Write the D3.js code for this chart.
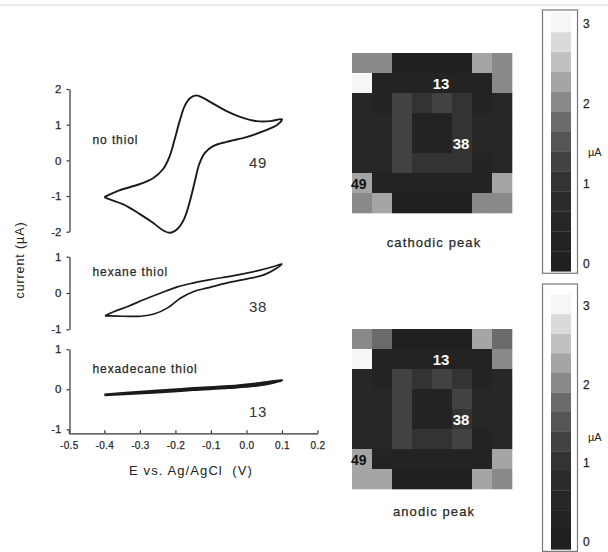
<!DOCTYPE html>
<html>
<head>
<meta charset="utf-8">
<script src="https://cdn.jsdelivr.net/npm/d3@7"></script>
<style>
  html, body { margin: 0; padding: 0; background: #fff; }
  svg { display: block; font-family: "Liberation Sans", Arial, sans-serif; }
  .axis path, .axis line { stroke: #333; stroke-width: 1.2; }
  .axis text { fill: #222; }
  .scan { stroke: #333; stroke-width: 0.25; }
</style>
</head>
<body>
<div id="chart"></div>
<script>
// cyclic voltammograms (E in V, current in uA)
const noThiolE = [-0.400, -0.358, -0.301, -0.263, -0.235, -0.216, -0.202, -0.188, -0.174, -0.159, -0.141, -0.122, -0.094, -0.056, -0.018, 0.029, 0.067, 0.100,
                  0.086, 0.048, 0.000, -0.056, -0.094, -0.117, -0.133, -0.145, -0.159, -0.174, -0.193, -0.216, -0.235, -0.263, -0.301, -0.348, -0.386, -0.400];
const noThiolI = [-1.03, -0.84, -0.67, -0.50, -0.25, 0.12, 0.59, 1.10, 1.52, 1.74, 1.82, 1.75, 1.59, 1.38, 1.22, 1.10, 1.10, 1.15,
                  0.99, 0.82, 0.65, 0.52, 0.40, 0.21, -0.11, -0.58, -1.14, -1.61, -1.91, -2.03, -1.96, -1.75, -1.50, -1.23, -1.09, -1.03];

const hexaneE = [-0.398, -0.372, -0.334, -0.288, -0.241, -0.194, -0.148, -0.101, -0.036, 0.030, 0.077, 0.100,
                 0.086, 0.049, 0.002, -0.054, -0.110, -0.148, -0.185, -0.222, -0.260, -0.297, -0.344, -0.381, -0.398];
const hexaneI = [-0.63, -0.51, -0.37, -0.18, 0.00, 0.17, 0.28, 0.37, 0.48, 0.61, 0.73, 0.80,
                 0.69, 0.50, 0.39, 0.28, 0.14, 0.04, -0.14, -0.41, -0.58, -0.64, -0.64, -0.63, -0.63];

const hexadecaneE = [-0.400, -0.330, -0.250, -0.150, -0.050, 0.030, 0.100, 0.030, -0.050, -0.150, -0.250, -0.330, -0.400];
const hexadecaneI = [-0.14, -0.09, -0.04, 0.02, 0.07, 0.14, 0.22, 0.10, 0.04, -0.01, -0.07, -0.11, -0.14];

const xTicks = [-0.5, -0.4, -0.3, -0.2, -0.1, 0.0, 0.1, 0.2];
const peakLabels = ["49", "38", "13"];

// 8x8 peak current maps (uA), rows top to bottom
const cathodic = [
  [2.1, 2.0, 0.1, 0.1, 0.1, 0.1, 2.3, 2.0],
  [3.0, 0.3, 0.2, 0.2, 0.3, 0.2, 0.3, 2.1],
  [0.4, 0.3, 1.3, 0.9, 1.3, 1.1, 0.3, 0.4],
  [0.5, 0.4, 1.3, 0.3, 0.2, 1.1, 0.4, 0.5],
  [0.5, 0.4, 1.2, 0.3, 0.2, 1.0, 0.4, 0.4],
  [0.4, 0.4, 1.2, 1.0, 1.0, 1.1, 0.3, 0.4],
  [2.3, 0.3, 0.2, 0.2, 0.2, 0.2, 0.3, 2.3],
  [2.0, 2.3, 0.1, 0.1, 0.1, 0.1, 2.1, 2.1]
];
const anodic = [
  [2.0, 1.8, 0.1, 0.1, 0.1, 0.1, 2.2, 1.8],
  [3.0, 0.3, 0.2, 0.2, 0.3, 0.2, 0.3, 2.0],
  [0.4, 0.3, 1.3, 0.9, 1.2, 0.9, 0.3, 0.4],
  [0.6, 0.4, 1.3, 0.2, 0.2, 1.2, 0.4, 0.5],
  [0.5, 0.4, 1.2, 0.2, 0.2, 1.1, 0.4, 0.4],
  [0.4, 0.4, 1.3, 1.1, 1.1, 1.2, 0.3, 0.4],
  [2.3, 0.3, 0.2, 0.2, 0.2, 0.2, 0.3, 2.2],
  [2.2, 2.3, 0.1, 0.1, 0.1, 0.1, 2.2, 2.0]
];
const colorTicks = [0, 1, 2, 3];

const W = 608, H = 552;
const svg = d3.select('#chart').append('svg').attr('width', W).attr('height', H);

// faint scan edge at the very top
svg.append('line').attr('x1', 0).attr('x2', W).attr('y1', 5).attr('y2', 5)
  .attr('stroke', '#e4e4e4').attr('stroke-width', 1.5);

// ---------- voltammograms ----------
const x = d3.scaleLinear().domain([-0.5, 0.2]).range([68.8, 317.5]);
const fmt = d => d.toFixed(1);

const panels = [
  { E: noThiolE, I: noThiolI, dom: [-2, 2], rng: [231.7, 89], ticks: [-2, -1, 0, 1, 2], name: 'no thiol', ny: 140, num: '49', numy: 163, sw: 1.9 },
  { E: hexaneE, I: hexaneI, dom: [-1, 1], rng: [329.3, 256.7], ticks: [-1, 0, 1], name: 'hexane thiol', ny: 272, num: '38', numy: 307, sw: 1.7 },
  { E: hexadecaneE, I: hexadecaneI, dom: [-1.1, 1], rng: [433.3, 349.3], ticks: [-1, 0, 1], name: 'hexadecane thiol', ny: 369, num: '13', numy: 412, sw: 2.8 }
];

panels.forEach(p => {
  const y = d3.scaleLinear().domain(p.dom).range(p.rng);
  const g = svg.append('g').attr('class', 'axis').attr('transform', 'translate(69.5,0)')
    .call(d3.axisLeft(y).tickValues(p.ticks).tickSize(3).tickSizeOuter(0).tickPadding(5).tickFormat(d3.format('d')));
  g.selectAll('text').attr('font-size', 11.5).attr('class', 'scan').text(d => String(d));

  const pts = p.E.map((e, i) => [e, p.I[i]]);
  svg.append('path').datum(pts)
    .attr('fill', 'none').attr('stroke', '#1a1a1a').attr('stroke-width', p.sw).attr('stroke-linejoin', 'round')
    .attr('d', d3.line().x(d => x(d[0])).y(d => y(d[1])).curve(d3.curveCatmullRom.alpha(0.5)));

  svg.append('text').attr('class', 'scan').attr('x', 92.5).attr('y', p.ny).attr('dy', '0.35em')
    .attr('font-size', 12).attr('letter-spacing', 0.9).attr('fill', '#222').text(p.name);
  svg.append('text').attr('x', 258).attr('y', p.numy).attr('dy', '0.35em').attr('text-anchor', 'middle')
    .attr('font-size', 15).attr('letter-spacing', 0.6).attr('fill', '#333').text(p.num);
});

const xa = svg.append('g').attr('class', 'axis').attr('transform', 'translate(0,433.3)')
  .call(d3.axisBottom(x).tickValues(xTicks).tickSize(-3).tickSizeOuter(0).tickPadding(9).tickFormat(fmt));
xa.selectAll('text').attr('font-size', 10).attr('letter-spacing', 0.3).attr('class', 'scan');

svg.append('text').attr('x', 191).attr('y', 470).attr('dy', '0.35em').attr('text-anchor', 'middle')
  .attr('font-size', 13).attr('letter-spacing', 1.1).attr('fill', '#222').style('white-space', 'pre')
  .text('E vs. Ag/AgCl  (V)');

svg.append('text').attr('transform', 'translate(20,260) rotate(-90)').attr('dy', '0.35em')
  .attr('text-anchor', 'middle').attr('font-size', 12.5).attr('letter-spacing', 0.9).attr('fill', '#222')
  .text('current (\u00b5A)');

// ---------- peak current maps ----------
const grays = ['#202020', '#232323', '#272727', '#2c2c2c', '#333333', '#424242', '#555555',
               '#6b6b6b', '#898989', '#a5a5a5', '#c0c0c0', '#dadada', '#f6f6f6'];
const color = d3.scaleQuantize().domain([-0.1, 3.15]).range(grays);

const cols = d3.scaleBand().domain(d3.range(8)).range([352, 512]);

function heatmap(grid, top, title, ty) {
  const rows = d3.scaleBand().domain(d3.range(8)).range([top, top + 160]);
  const cells = grid.flatMap((r, i) => r.map((v, j) => ({ i, j, v })));
  svg.append('g').selectAll('rect').data(cells).join('rect')
    .attr('x', d => cols(d.j)).attr('y', d => rows(d.i))
    .attr('width', cols.bandwidth() + 0.3).attr('height', rows.bandwidth() + 0.3)
    .attr('fill', d => color(d.v));

  // electrode labels: [label, col, row]
  const marks = [[peakLabels[2], 4, 1], [peakLabels[1], 5, 4]];
  marks.forEach(m => {
    svg.append('text').attr('x', cols(m[1]) + cols.bandwidth() / 2 - 1).attr('y', rows(m[2]) + rows.bandwidth() / 2 + 1)
      .attr('dy', '0.35em').attr('text-anchor', 'middle').attr('font-size', 15).attr('font-weight', 'bold')
      .attr('fill', '#fff').text(m[0]);
  });
  svg.append('text').attr('x', 351).attr('y', rows(6) + rows.bandwidth() / 2 + 1).attr('dy', '0.35em')
    .attr('font-size', 14).attr('font-weight', 'bold').attr('fill', '#111').text(peakLabels[0]);

  svg.append('text').attr('class', 'scan').attr('x', 434).attr('y', ty).attr('dy', '0.35em').attr('text-anchor', 'middle')
    .attr('font-size', 13).attr('letter-spacing', 1.1).attr('fill', '#222').text(title);
}

heatmap(cathodic, 53, 'cathodic peak', 242);
heatmap(anodic, 329, 'anodic peak', 511);

// ---------- colour bars ----------
function colorbar(y0, y3, boxTop, unitY) {
  const cy = d3.scaleLinear().domain([0, 3]).range([y0, y3]);
  const bands = color.range().map(c => color.invertExtent(c));
  svg.append('rect').attr('x', 542.5).attr('y', boxTop).attr('width', 35)
    .attr('height', cy(-0.1) + 2 - boxTop).attr('fill', '#fff').attr('stroke', '#777').attr('stroke-width', 1.2);
  svg.append('g').selectAll('rect').data(bands).join('rect')
    .attr('x', 551).attr('width', 20)
    .attr('y', d => cy(d[1])).attr('height', d => cy(d[0]) - cy(d[1]) + 0.3)
    .attr('fill', d => color((d[0] + d[1]) / 2));
  svg.append('g').selectAll('text').data(colorTicks).join('text')
    .attr('class', 'scan').attr('x', 583).attr('y', d => cy(d)).attr('dy', '0.35em')
    .attr('font-size', 12).attr('fill', '#222').text(d => d);
  svg.append('text').attr('x', 588).attr('y', unitY).attr('dy', '0.35em')
    .attr('font-size', 11).attr('fill', '#222').text('\u00b5A');
}

colorbar(263.3, 24, 10, 152);
colorbar(541.5, 306, 284, 437);
</script>
</body>
</html>
